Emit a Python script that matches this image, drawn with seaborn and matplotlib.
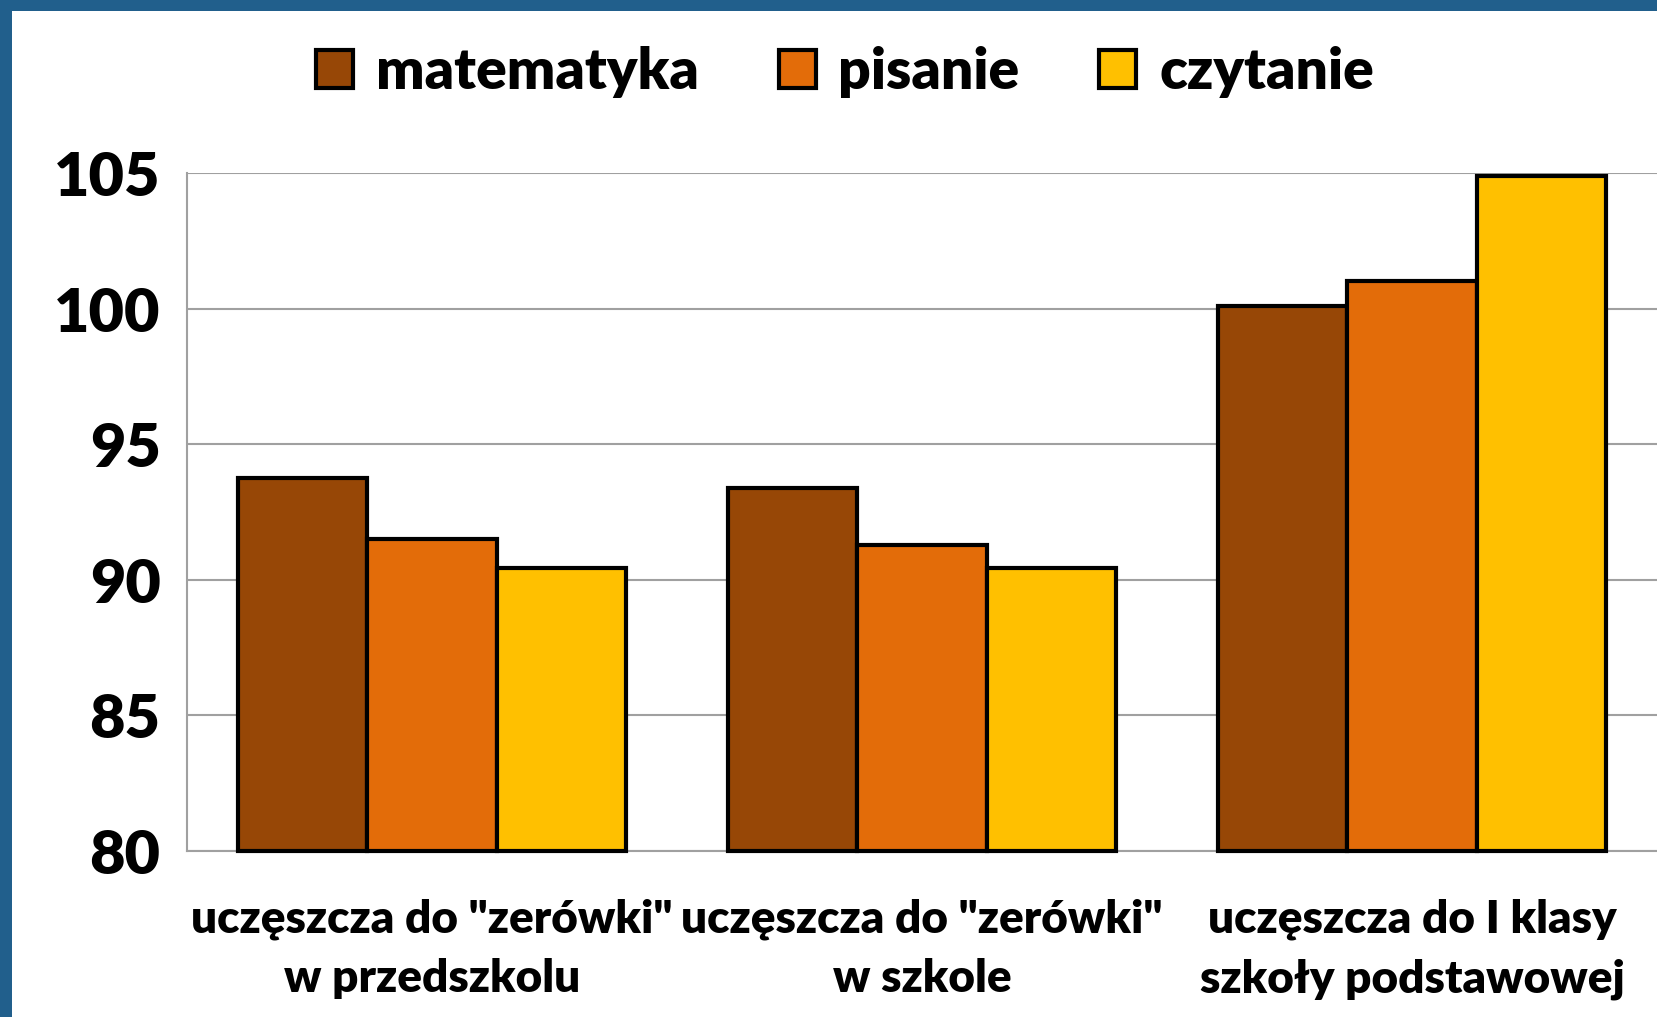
import pandas as pd
import seaborn as sns
from matplotlib import pyplot as plt
from matplotlib.patches import Rectangle

# dane z wykresu
kategorie = ['uczęszcza do "zerówki"\nw przedszkolu',
             'uczęszcza do "zerówki"\nw szkole',
             'uczęszcza do I klasy\nszkoły podstawowej']
matematyka = [93.75, 93.4, 100.1]
pisanie = [91.5, 91.3, 101.0]
czytanie = [90.45, 90.45, 104.9]
serie = ['matematyka', 'pisanie', 'czytanie']
kolory = ['#974706', '#E36C09', '#FFC000']
y_min, y_max = 80, 105
y_ticks = [80, 85, 90, 95, 100, 105]


def main():
    df = pd.DataFrame({
        'kategoria': kategorie * 3,
        'seria': [s for s in serie for _ in kategorie],
        'wartosc': matematyka + pisanie + czytanie,
    })

    sns.set_style('white')
    plt.rcParams['font.family'] = ['Lato', 'DejaVu Sans']
    plt.rcParams['font.weight'] = 'heavy'
    plt.rcParams['text.color'] = 'black'

    fig = plt.figure(figsize=(16.57, 10.17), dpi=100)
    fig.patch.set_facecolor('#215F8C')
    fig.add_artist(Rectangle((12 / 1657, 0), 1, 1 - 11 / 1017,
                             transform=fig.transFigure, facecolor='white',
                             edgecolor='none', zorder=-1))
    ax = fig.add_axes([187 / 1657, 1 - 851 / 1017, 1 - 187 / 1657, (851 - 173) / 1017])
    ax.set_facecolor('white')

    sns.barplot(data=df, x='kategoria', y='wartosc', hue='seria',
                palette=kolory, edgecolor='black', linewidth=3.0,
                width=0.79, saturation=1, ax=ax, zorder=3)

    # słupki od poziomu 80
    for p in ax.patches:
        h = p.get_height()
        if h > 0:
            p.set_y(y_min)
            p.set_height(h - y_min)
            p.set_clip_on(False)

    ax.set_ylim(y_min, y_max)
    ax.set_xlim(-0.5, 2.5)
    ax.set_yticks(y_ticks)
    ax.set_xticks([-0.5, 0.5, 1.5, 2.5], minor=True)
    ax.yaxis.grid(True, color='#A0A0A0', linewidth=1.5, zorder=0)
    ax.set_axisbelow(True)
    for s in ['top', 'right']:
        ax.spines[s].set_visible(False)
    for s in ['left', 'bottom']:
        ax.spines[s].set_color('#A0A0A0')
        ax.spines[s].set_linewidth(1.5)
    ax.tick_params(axis='y', length=14, width=1.5, color='#A0A0A0',
                   labelsize=44, pad=5, labelcolor='black')
    ax.tick_params(axis='x', which='major', length=0, labelsize=33, pad=34,
                   labelcolor='black')
    ax.tick_params(axis='x', which='minor', length=11, width=1.5, color='#A0A0A0')
    for t in ax.get_xticklabels():
        t.set_linespacing(1.55)
    ax.set_xlabel('')
    ax.set_ylabel('')

    ax.legend(loc='center', bbox_to_anchor=(0.51, 0.929),
              bbox_transform=fig.transFigure, ncol=3, frameon=False,
              fontsize=41, handlelength=0.65, handleheight=0.65,
              handletextpad=0.4, columnspacing=1.4)
    for h in ax.get_legend().legend_handles:
        h.set_linewidth(3.0)
        h.set_edgecolor('black')

    plt.savefig('out.png', dpi=100)


if __name__ == '__main__':
    main()
